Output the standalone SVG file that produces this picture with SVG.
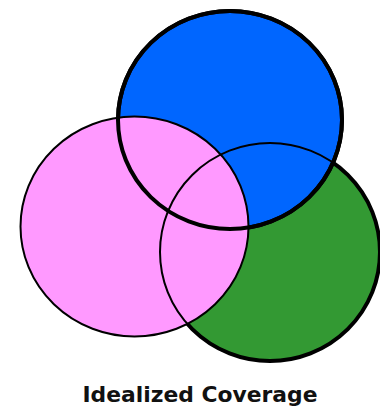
<svg xmlns="http://www.w3.org/2000/svg" width="380" height="407" viewBox="0 0 380 407">
<style>
.thick{stroke:#000;stroke-width:4}
.thin{stroke:#000;stroke-width:2}
.label{font-family:"Century Gothic","URW Gothic","DejaVu Sans",sans-serif;font-weight:bold;font-size:21px;fill:#111}
</style>
<rect width="380" height="407" fill="#fff"/>
<g id="green">
<ellipse cx="270" cy="252" rx="110" ry="109" fill="#339933" class="thick"/>
</g>
<g id="blue">
<ellipse cx="230" cy="120" rx="112" ry="109" fill="#0066FF" class="thick"/>
</g>
<g id="pink">
<ellipse cx="134.5" cy="226.5" rx="114" ry="110" fill="#FF99FF" class="thin"/>
</g>
<g id="outlines" fill="none">
<ellipse cx="230" cy="120" rx="112" ry="109" class="thick"/>
<ellipse cx="270" cy="252" rx="110" ry="109" class="thin"/>
</g>
<text class="label" x="200" y="402" text-anchor="middle" textLength="235" lengthAdjust="spacingAndGlyphs">Idealized Coverage</text>
</svg>
